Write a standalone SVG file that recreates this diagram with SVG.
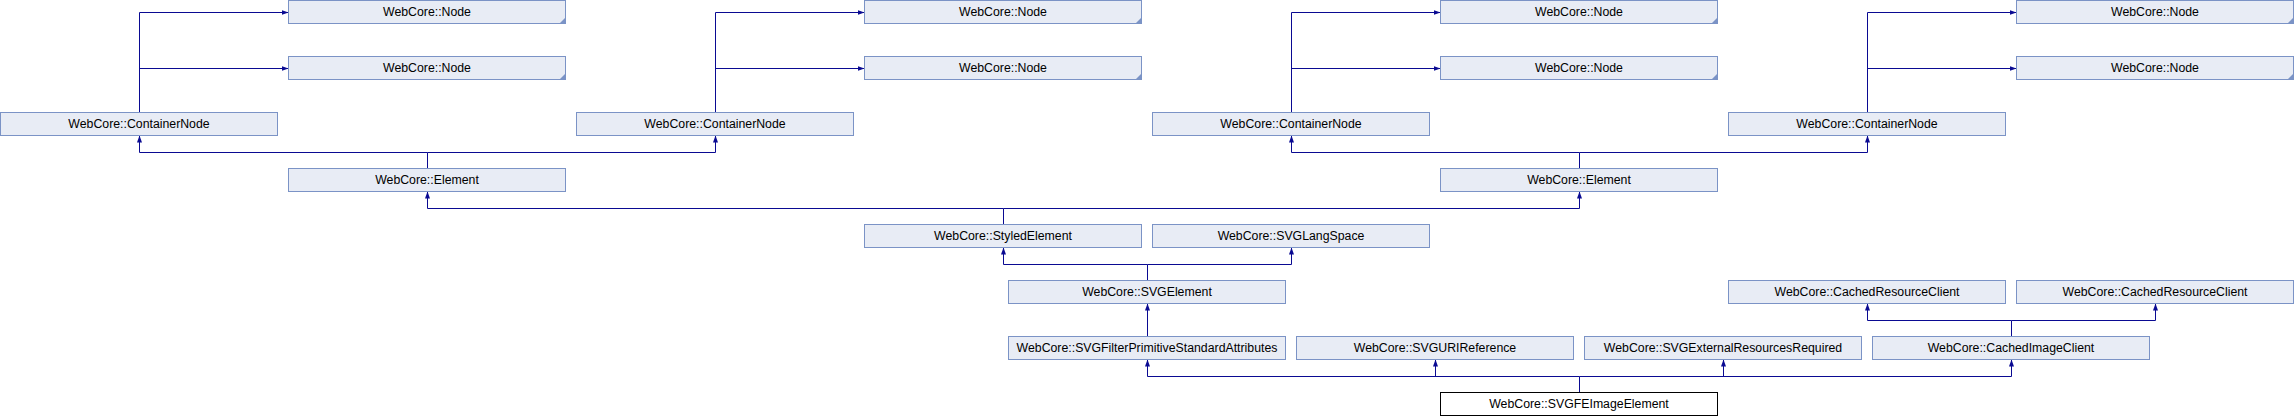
<svg xmlns="http://www.w3.org/2000/svg" width="2294" height="416" viewBox="0 0 2294 416">
<style>
.box{fill:#E8ECF5;stroke:#7B93C6;stroke-width:1}
.root{fill:#FFFFFF;stroke:#000000;stroke-width:1}
.lbl{font-family:"Liberation Sans",Arial,Helvetica,sans-serif;font-size:12.3px;fill:#000000;text-anchor:middle}
.corner{fill:#7B93C6}
.edge{fill:none;stroke:#0A0A92;stroke-width:1;marker-end:url(#arr)}
.plain{fill:none;stroke:#0A0A92;stroke-width:1}
</style>
<defs>
<marker id="arr" viewBox="0 0 7 5" refX="7" refY="2.5" markerWidth="7" markerHeight="5" markerUnits="userSpaceOnUse" orient="auto">
<path d="M0,0 L7,2.5 L0,5 z" fill="#0A0A92"/>
</marker>
</defs>
<rect width="2294" height="416" fill="#FFFFFF"/>
<g id="connectors">
<path class="edge" d="M139.5,112.5 V12.5 H288.5"/>
<path class="edge" d="M139.5,68.5 H288.5"/>
<path class="edge" d="M715.5,112.5 V12.5 H864.5"/>
<path class="edge" d="M715.5,68.5 H864.5"/>
<path class="edge" d="M1291.5,112.5 V12.5 H1440.5"/>
<path class="edge" d="M1291.5,68.5 H1440.5"/>
<path class="edge" d="M1867.5,112.5 V12.5 H2016.5"/>
<path class="edge" d="M1867.5,68.5 H2016.5"/>
<path class="edge" d="M427.5,168.5 V152.5 H139.5 V135.5"/>
<path class="edge" d="M427.5,152.5 H715.5 V135.5"/>
<path class="edge" d="M1579.5,168.5 V152.5 H1291.5 V135.5"/>
<path class="edge" d="M1579.5,152.5 H1867.5 V135.5"/>
<path class="edge" d="M1003.5,224.5 V208.5 H427.5 V191.5"/>
<path class="edge" d="M1003.5,208.5 H1579.5 V191.5"/>
<path class="edge" d="M1147.5,280.5 V264.5 H1003.5 V247.5"/>
<path class="edge" d="M1147.5,264.5 H1291.5 V247.5"/>
<path class="edge" d="M1147.5,336.5 V303.5"/>
<path class="edge" d="M2011.5,336.5 V320.5 H1867.5 V303.5"/>
<path class="edge" d="M2011.5,320.5 H2155.5 V303.5"/>
<path class="edge" d="M1579.5,392.5 V376.5 H1147.5 V359.5"/>
<path class="edge" d="M1435.5,376.5 V359.5"/>
<path class="edge" d="M1579.5,376.5 H2011.5 V359.5"/>
<path class="edge" d="M1723.5,376.5 V359.5"/>
</g>
<g id="node_a1"><rect class="box" x="288.5" y="0.5" width="277" height="23"/><polygon class="corner" points="565.5,73.5 565.5,79.5 559.5,79.5" transform="translate(0,-56)"/><text class="lbl" x="427" y="15.5">WebCore::Node</text></g>
<g id="node_a2"><rect class="box" x="288.5" y="56.5" width="277" height="23"/><polygon class="corner" points="565.5,73.5 565.5,79.5 559.5,79.5"/><text class="lbl" x="427" y="71.5">WebCore::Node</text></g>
<g id="node_b1"><rect class="box" x="864.5" y="0.5" width="277" height="23"/><polygon class="corner" points="1141.5,17.5 1141.5,23.5 1135.5,23.5"/><text class="lbl" x="1003" y="15.5">WebCore::Node</text></g>
<g id="node_b2"><rect class="box" x="864.5" y="56.5" width="277" height="23"/><polygon class="corner" points="1141.5,73.5 1141.5,79.5 1135.5,79.5"/><text class="lbl" x="1003" y="71.5">WebCore::Node</text></g>
<g id="node_c1"><rect class="box" x="1440.5" y="0.5" width="277" height="23"/><polygon class="corner" points="1717.5,17.5 1717.5,23.5 1711.5,23.5"/><text class="lbl" x="1579" y="15.5">WebCore::Node</text></g>
<g id="node_c2"><rect class="box" x="1440.5" y="56.5" width="277" height="23"/><polygon class="corner" points="1717.5,73.5 1717.5,79.5 1711.5,79.5"/><text class="lbl" x="1579" y="71.5">WebCore::Node</text></g>
<g id="node_d1"><rect class="box" x="2016.5" y="0.5" width="277" height="23"/><polygon class="corner" points="2293.5,17.5 2293.5,23.5 2287.5,23.5"/><text class="lbl" x="2155" y="15.5">WebCore::Node</text></g>
<g id="node_d2"><rect class="box" x="2016.5" y="56.5" width="277" height="23"/><polygon class="corner" points="2293.5,73.5 2293.5,79.5 2287.5,79.5"/><text class="lbl" x="2155" y="71.5">WebCore::Node</text></g>
<g id="containernode_a"><rect class="box" x="0.5" y="112.5" width="277" height="23"/><text class="lbl" x="139" y="127.5">WebCore::ContainerNode</text></g>
<g id="containernode_b"><rect class="box" x="576.5" y="112.5" width="277" height="23"/><text class="lbl" x="715" y="127.5">WebCore::ContainerNode</text></g>
<g id="containernode_c"><rect class="box" x="1152.5" y="112.5" width="277" height="23"/><text class="lbl" x="1291" y="127.5">WebCore::ContainerNode</text></g>
<g id="containernode_d"><rect class="box" x="1728.5" y="112.5" width="277" height="23"/><text class="lbl" x="1867" y="127.5">WebCore::ContainerNode</text></g>
<g id="element_a"><rect class="box" x="288.5" y="168.5" width="277" height="23"/><text class="lbl" x="427" y="183.5">WebCore::Element</text></g>
<g id="element_b"><rect class="box" x="1440.5" y="168.5" width="277" height="23"/><text class="lbl" x="1579" y="183.5">WebCore::Element</text></g>
<g id="styledelement"><rect class="box" x="864.5" y="224.5" width="277" height="23"/><text class="lbl" x="1003" y="239.5">WebCore::StyledElement</text></g>
<g id="svglangspace"><rect class="box" x="1152.5" y="224.5" width="277" height="23"/><text class="lbl" x="1291" y="239.5">WebCore::SVGLangSpace</text></g>
<g id="svgelement"><rect class="box" x="1008.5" y="280.5" width="277" height="23"/><text class="lbl" x="1147" y="295.5">WebCore::SVGElement</text></g>
<g id="cachedresourceclient_a"><rect class="box" x="1728.5" y="280.5" width="277" height="23"/><text class="lbl" x="1867" y="295.5">WebCore::CachedResourceClient</text></g>
<g id="cachedresourceclient_b"><rect class="box" x="2016.5" y="280.5" width="277" height="23"/><text class="lbl" x="2155" y="295.5">WebCore::CachedResourceClient</text></g>
<g id="svgfilterprimitivestandardattributes"><rect class="box" x="1008.5" y="336.5" width="277" height="23"/><text class="lbl" x="1147" y="351.5">WebCore::SVGFilterPrimitiveStandardAttributes</text></g>
<g id="svgurireference"><rect class="box" x="1296.5" y="336.5" width="277" height="23"/><text class="lbl" x="1435" y="351.5">WebCore::SVGURIReference</text></g>
<g id="svgexternalresourcesrequired"><rect class="box" x="1584.5" y="336.5" width="277" height="23"/><text class="lbl" x="1723" y="351.5">WebCore::SVGExternalResourcesRequired</text></g>
<g id="cachedimageclient"><rect class="box" x="1872.5" y="336.5" width="277" height="23"/><text class="lbl" x="2011" y="351.5">WebCore::CachedImageClient</text></g>
<g id="svgfeimageelement"><rect class="root" x="1440.5" y="392.5" width="277" height="23"/><text class="lbl" x="1579" y="407.5">WebCore::SVGFEImageElement</text></g>
</svg>
